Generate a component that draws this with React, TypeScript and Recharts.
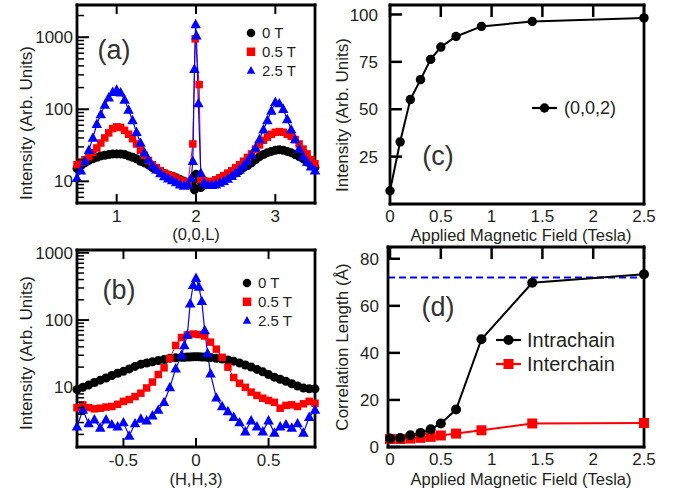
import React from 'react';
import { LineChart, Line, XAxis, YAxis, ReferenceLine, Legend } from 'recharts';

const FONT = '"Liberation Sans", Arial, Helvetica, sans-serif';
const TXT = '#231f20';
const BLACK = '#000000';
const RED = '#ff0000';
const BLUE = '#0000ff';

// ---------- Panel (a): (0,0,L) scans ----------
const aL = [0.5,0.55,0.6,0.65,0.7,0.75,0.8,0.85,0.9,0.95,1.0,1.05,1.1,1.15,1.2,1.25,1.3,1.35,1.4,1.45,1.5,1.55,1.6,1.65,1.7,1.75,1.8,1.85,1.9,
  1.94,1.96,1.98,1.99,1.995,2.0,2.005,2.03,2.04,2.06,
  2.1,2.15,2.2,2.25,2.3,2.35,2.4,2.45,2.5,2.55,2.6,2.65,2.7,2.75,2.8,2.85,2.9,2.95,3.0,3.05,3.1,3.15,3.2,3.25,3.3,3.35,3.4,3.45,3.5];
const a0T = [15,16.5,18,19.5,20.5,21.5,22.5,23,23.5,24,24,24,23.5,22.5,21.5,20.5,19,18,17,15.5,14.5,13.5,12.8,12.2,11.8,11.2,10.6,10,9.2,
  9.5,8.5,7.6,null,null,12.5,null,null,10.5,8.2,
  9.5,9.3,9.5,10,10.5,11,11.5,12.2,13,14,15.5,16.5,18,20,22,23.5,25,26,27,27.5,27,26,25,23.5,22,20.5,18.5,17,15.5];
const a05T = [17,18.5,20,22,25,29,34,40,47,54,57,56,51,45,39,33,27,23,19.5,17,15.5,14,13,12.3,11.8,11,10.4,10,9.5,
  null,33,null,950,null,null,null,null,220,10.5,
  10.2,9.8,10,10.5,11.2,12,13,14,15.5,17,19,21.5,24,28,32,37,41,45,48,49,48,45,42,38,33,28,24,20,17.5];
const a25T = [11,14,19,27,40,62,85,115,145,172,185,170,135,98,70,48,34,25,20,16.5,14.5,12.8,11.7,10.9,10.3,9.6,9,8.6,9,
  11,19,360,null,1500,null,1050,120,null,13,
  9.5,8.8,8.8,9,9.5,10,10.8,11.8,13,14.5,16.5,19,23,29,38,52,70,95,125,120,100,72,52,38,28,22,18.5,16,14];
const aXTicks = [1, 2, 3];
const aYMajor = [10, 100, 1000];
const aYMinor = [6,7,8,9,20,30,40,50,60,70,80,90,200,300,400,500,600,700,800,900,2000];

// ---------- Panel (b): (H,H,3) scans ----------
const bH = [-0.82,-0.78,-0.74,-0.70,-0.66,-0.62,-0.58,-0.54,-0.50,-0.46,-0.42,-0.38,-0.34,-0.30,-0.26,-0.22,-0.18,-0.14,-0.10,
  -0.08,-0.06,-0.04,-0.02,0,0.02,0.04,0.06,0.08,0.10,
  0.14,0.18,0.22,0.26,0.30,0.34,0.38,0.42,0.46,0.50,0.54,0.58,0.62,0.66,0.70,0.74,0.78,0.82];
const b0T = [9.3,10,10.8,11.8,12.8,13.8,15,16.2,17.3,18.8,20.5,22,23,24,25,26,27,27.5,28,
  28,28.2,28.3,28.5,28.6,28.5,28.3,28.2,28,27.8,
  27,26.3,25.5,24.5,23,21.5,20,18.5,17,15.5,14.2,13.2,12.3,11.3,10.5,9.8,9.5,9.5];
const b05T = [5.0,5.5,5.0,4.8,4.9,5.1,5.2,5.6,6.2,6.6,7.3,8.2,9.8,12,15.5,19.5,27,42,55,
  null,60,null,62,null,61,null,58,null,47,
  37,28,20,14,11.5,10,8.5,7.6,6.9,6.4,6,4.9,5.4,5.5,5.2,5.7,6.2,5.8];
const b25T = [2.6,4.6,2.9,3.3,2.5,3.3,2.8,2.6,3.0,1.9,2.9,3.4,3.2,3.8,4.6,6,10,19,30,
  42,60,175,330,420,310,190,70,32,16,
  7,5.2,4.4,3.6,3.0,2.2,3.2,2.6,2.2,3.2,2.1,2.6,2.8,2.5,2.9,2.1,3.6,4.6];
const bXTicks = [-0.5, 0, 0.5];
const bYMajor = [10, 100, 1000];
const bYMinor = [2,3,4,5,6,7,8,9,20,30,40,50,60,70,80,90,200,300,400,500,600,700,800,900];

// ---------- Panel (c): (0,0,2) intensity vs field ----------
const cField = [0, 0.1, 0.2, 0.3, 0.4, 0.5, 0.65, 0.9, 1.4, 2.5];
const cInt = [7, 32.8, 55.1, 65.6, 76.3, 82.8, 88.4, 93.7, 96.3, 98.2];
const cXTicks = [0, 0.5, 1, 1.5, 2, 2.5];
const cYTicks = [25, 50, 75, 100];

// ---------- Panel (d): correlation lengths ----------
const dField = [0, 0.1, 0.2, 0.3, 0.4, 0.5, 0.65, 0.9, 1.4, 2.5];
const dIntra = [3.6, 3.8, 5.0, 6.0, 7.5, 10.0, 15.9, 45.8, 69.8, 73.4];
const dInter = [3.4, 3.4, 3.6, 3.9, 4.3, 4.9, 5.7, 7.1, 10.0, 10.2];
const dLimit = 72;
const dXTicks = [0, 0.5, 1, 1.5, 2, 2.5];
const dYTicks = [0, 20, 40, 60, 80];

const legendA = [
  { name: '0 T', color: BLACK, shape: 'circle' },
  { name: '0.5 T', color: RED, shape: 'square' },
  { name: '2.5 T', color: BLUE, shape: 'triangle' },
];
const legendC = [{ name: '(0,0,2)', color: BLACK, shape: 'circle' }];
const legendD = [
  { name: 'Intrachain', color: BLACK, shape: 'circle' },
  { name: 'Interchain', color: RED, shape: 'square' },
];

const W = 676;
const H = 491;
const FRAME: any = { stroke: '#000', strokeWidth: 2.8, strokeLinecap: 'square' };
const ABS: React.CSSProperties = { position: 'absolute', left: 0, top: 0 };

// plot box [left, top, right, bottom] -> margins (axes are 1px thick boxes)
const boxMargin = (l: number, t: number, r: number, b: number) => ({ left: l - 1, top: t - 1, right: W - r - 1, bottom: H - b - 1 });

type Side = 'left' | 'right' | 'top' | 'bottom';
type TickCfg = { side: Side; major: number[]; majorLen: number; minorLen: number; label?: boolean; gap?: number; width?: number; fontSize?: number };

const makeTick = (c: TickCfg) => (p: any) => {
  const { x, y, payload, index } = p;
  const v = Number(payload.value);
  const isMajor = c.major.some((m) => Math.abs(m - v) < 1e-9);
  const len = isMajor ? c.majorLen : c.minorLen;
  const sw = c.width ?? 2;
  let x2 = x;
  let y2 = y;
  if (c.side === 'left') x2 = x + len;
  else if (c.side === 'right') x2 = x - len;
  else if (c.side === 'top') y2 = y + len;
  else y2 = y - len;
  const fs = c.fontSize ?? 17;
  return (
    <g key={`tk-${c.side}-${index}`}>
      {len > 0 && <line x1={x} y1={y} x2={x2} y2={y2} stroke="#000" strokeWidth={isMajor ? sw : sw * 0.75} />}
      {c.label && isMajor && c.side === 'left' && (
        <text x={x - (c.gap ?? 6)} y={y} dy="0.36em" textAnchor="end" fontSize={fs} fontFamily={FONT} fill={TXT}>{String(v)}</text>
      )}
      {c.label && isMajor && c.side === 'bottom' && (
        <text x={x} y={y + (c.gap ?? 19)} textAnchor="middle" fontSize={fs} fontFamily={FONT} fill={TXT}>{String(v)}</text>
      )}
    </g>
  );
};

const Marker = ({ shape, cx, cy, s, color }: { shape: string; cx: number; cy: number; s: number; color: string }) => {
  if (shape === 'circle') return <circle cx={cx} cy={cy} r={s / 2} fill={color} />;
  if (shape === 'square') return <rect x={cx - s / 2} y={cy - s / 2} width={s} height={s} fill={color} />;
  const h = s * 0.9;
  return <polygon points={`${cx},${cy - h * 0.6} ${cx + s / 2},${cy + h * 0.4} ${cx - s / 2},${cy + h * 0.4}`} fill={color} />;
};

const dotFn = (shape: string, s: number, color: string) => (p: any) => {
  const key = `d-${shape}-${p.index}`;
  if (p.cx == null || p.cy == null || p.value == null || Number.isNaN(p.cy)) return <g key={key} />;
  return <g key={key}><Marker shape={shape} cx={p.cx} cy={p.cy} s={s} color={color} /></g>;
};

const legendContent = (items: any[], opts: { rowH: number; textX: number; fs: number; s: number; line?: number; w: number }) => () => (
  <svg width={opts.w} height={items.length * opts.rowH + 4} style={{ display: 'block', overflow: 'visible' }}>
    {items.map((it, i) => {
      const cy = 9 + i * opts.rowH;
      const cx = opts.line ? opts.line / 2 + 1 : 8;
      return (
        <g key={it.name}>
          {opts.line ? <line x1={1} x2={opts.line + 1} y1={cy} y2={cy} stroke={it.color} strokeWidth={2.2} /> : null}
          <Marker shape={it.shape} cx={cx} cy={cy} s={opts.s} color={it.color} />
          <text x={opts.textX} y={cy} dy="0.36em" fontSize={opts.fs} fontFamily={FONT} fill={TXT}>{it.name}</text>
        </g>
      );
    })}
  </svg>
);

const commonAxis = { interval: 0 as const, tickSize: 0, tickMargin: 0, tickLine: false, axisLine: FRAME, allowDecimals: true };

function LogPanel(props: {
  xs: number[]; s0: (number | null)[]; s1: (number | null)[]; s2: (number | null)[];
  xDomain: [number, number]; yDomain: [number, number]; xTicks: number[]; yMajor: number[]; yMinor: number[];
  margin: any; legendPos: { left: number; top: number };
}) {
  const data = props.xs.map((x, i) => ({ x, s0: props.s0[i], s1: props.s1[i], s2: props.s2[i] }));
  const yt = [...props.yMinor, ...props.yMajor].sort((p, q) => p - q);
  return (
    <div style={ABS}>
      <LineChart width={W} height={H} data={data} margin={props.margin}>
        <XAxis xAxisId="b" dataKey="x" type="number" domain={props.xDomain} ticks={props.xTicks} height={1} {...commonAxis}
          tick={makeTick({ side: 'bottom', major: props.xTicks, majorLen: 9, minorLen: 0, label: true, gap: 19 })} />
        <XAxis xAxisId="t" orientation="top" dataKey="x" type="number" domain={props.xDomain} ticks={props.xTicks} height={1} {...commonAxis}
          tick={makeTick({ side: 'top', major: props.xTicks, majorLen: 9, minorLen: 0 })} />
        <YAxis yAxisId="l" type="number" scale="log" domain={props.yDomain} ticks={yt} width={1} {...commonAxis}
          tick={makeTick({ side: 'left', major: props.yMajor, majorLen: 12, minorLen: 7, label: true, gap: 4 })} />
        <YAxis yAxisId="r" orientation="right" type="number" scale="log" domain={props.yDomain} ticks={yt} width={1} {...commonAxis}
          tick={makeTick({ side: 'right', major: props.yMajor, majorLen: 12, minorLen: 7 })} />
        <Line xAxisId="b" yAxisId="l" type="linear" dataKey="s0" name="0 T" stroke={BLACK} strokeWidth={1} connectNulls isAnimationActive={false} dot={dotFn('circle', 9, BLACK)} />
        <Line xAxisId="b" yAxisId="l" type="linear" dataKey="s1" name="0.5 T" stroke={RED} strokeWidth={1} connectNulls isAnimationActive={false} dot={dotFn('square', 7.5, RED)} />
        <Line xAxisId="b" yAxisId="l" type="linear" dataKey="s2" name="2.5 T" stroke={BLUE} strokeWidth={1.2} connectNulls isAnimationActive={false} dot={dotFn('triangle', 10.5, BLUE)} />
        <Legend layout="vertical" align="center" verticalAlign="middle"
          wrapperStyle={{ left: props.legendPos.left, top: props.legendPos.top, width: 90 }}
          content={legendContent(legendA, { rowH: 18.8, textX: 19, fs: 15, s: 8.5, w: 90 })} />
      </LineChart>
    </div>
  );
}

function PanelC() {
  const data = cField.map((x, i) => ({ x, v: cInt[i] }));
  return (
    <div style={ABS}>
      <LineChart width={W} height={H} data={data} margin={boxMargin(390, 5, 644, 204)}>
        <XAxis xAxisId="b" dataKey="x" type="number" domain={[0, 2.5]} ticks={cXTicks} height={1} {...commonAxis}
          tick={makeTick({ side: 'bottom', major: cXTicks, majorLen: 0, minorLen: 0, label: true, gap: 18 })} />
        <XAxis xAxisId="t" orientation="top" dataKey="x" type="number" domain={[0, 2.5]} ticks={cXTicks} height={1} {...commonAxis}
          tick={makeTick({ side: 'top', major: cXTicks, majorLen: 12, minorLen: 0, width: 2.5 })} />
        <YAxis yAxisId="l" type="number" domain={[0, 105]} ticks={cYTicks} width={1} {...commonAxis}
          tick={makeTick({ side: 'left', major: cYTicks, majorLen: 12, minorLen: 0, label: true, gap: 12, width: 2.5 })} />
        <YAxis yAxisId="r" orientation="right" type="number" domain={[0, 105]} ticks={cYTicks} width={1} {...commonAxis}
          tick={makeTick({ side: 'right', major: cYTicks, majorLen: 12, minorLen: 0, width: 2.5 })} />
        <Line xAxisId="b" yAxisId="l" type="linear" dataKey="v" name="(0,0,2)" stroke={BLACK} strokeWidth={2} isAnimationActive={false} dot={dotFn('circle', 9.4, BLACK)} />
        <Legend layout="vertical" align="center" verticalAlign="middle"
          wrapperStyle={{ left: 531, top: 99, width: 110 }}
          content={legendContent(legendC, { rowH: 24, textX: 33, fs: 18, s: 9.4, line: 25, w: 110 })} />
      </LineChart>
    </div>
  );
}

function PanelD() {
  const data = dField.map((x, i) => ({ x, a: dIntra[i], b: dInter[i] }));
  return (
    <div style={ABS}>
      <LineChart width={W} height={H} data={data} margin={boxMargin(388, 247, 644, 447)}>
        <XAxis xAxisId="b" dataKey="x" type="number" domain={[-0.02, 2.5]} ticks={dXTicks} height={1} {...commonAxis}
          tick={makeTick({ side: 'bottom', major: dXTicks, majorLen: 0, minorLen: 0, label: true, gap: 18 })} />
        <XAxis xAxisId="t" orientation="top" dataKey="x" type="number" domain={[-0.02, 2.5]} ticks={dXTicks} height={1} {...commonAxis}
          tick={makeTick({ side: 'top', major: dXTicks, majorLen: 12, minorLen: 0, width: 2.5 })} />
        <YAxis yAxisId="l" type="number" domain={[0, 85]} ticks={dYTicks} width={1} {...commonAxis}
          tick={makeTick({ side: 'left', major: dYTicks, majorLen: 12, minorLen: 0, label: true, gap: 9, width: 2.5 })} />
        <YAxis yAxisId="r" orientation="right" type="number" domain={[0, 85]} ticks={dYTicks} width={1} {...commonAxis}
          tick={makeTick({ side: 'right', major: dYTicks, majorLen: 12, minorLen: 0, width: 2.5 })} />
        <ReferenceLine xAxisId="b" yAxisId="l" y={dLimit} stroke={BLUE} strokeWidth={2} strokeDasharray="7 4" />
        <Line xAxisId="b" yAxisId="l" type="linear" dataKey="b" name="Interchain" stroke={RED} strokeWidth={2} isAnimationActive={false} dot={dotFn('square', 10, RED)} />
        <Line xAxisId="b" yAxisId="l" type="linear" dataKey="a" name="Intrachain" stroke={BLACK} strokeWidth={2} isAnimationActive={false} dot={dotFn('circle', 10, BLACK)} />
        <Legend layout="vertical" align="center" verticalAlign="middle"
          wrapperStyle={{ left: 495, top: 331, width: 160 }}
          content={legendContent(legendD, { rowH: 24, textX: 32, fs: 20, s: 10, line: 25, w: 160 })} />
      </LineChart>
    </div>
  );
}

const titleStyle = { fontFamily: FONT, fontSize: 17, fill: TXT };
const xTitleStyle = { fontFamily: FONT, fontSize: 16.5, fill: TXT };
const panelTag = { fontFamily: FONT, fontSize: 27, fill: '#333' };

export default function App() {
  return (
    <div style={{ position: 'absolute', left: 0, top: 0, width: W, height: H, background: '#fff', overflow: 'hidden' }}>
      <LogPanel xs={aL} s0={a0T} s1={a05T} s2={a25T} xDomain={[0.5, 3.5]} yDomain={[5, 2800]} xTicks={aXTicks}
        yMajor={aYMajor} yMinor={aYMinor} margin={boxMargin(77, 5, 315, 203)} legendPos={{ left: 243, top: 24 }} />
      <LogPanel xs={bH} s0={b0T} s1={b05T} s2={b25T} xDomain={[-0.82, 0.82]} yDomain={[1.3, 1100]} xTicks={bXTicks}
        yMajor={bYMajor} yMinor={bYMinor} margin={boxMargin(77, 250, 315, 447)} legendPos={{ left: 239, top: 274 }} />
      <PanelC />
      <PanelD />
      <svg width={W} height={H} style={{ ...ABS, pointerEvents: 'none' }}>
        <text transform="translate(26,123) rotate(-90)" textAnchor="middle" dy="0.35em" {...titleStyle}>Intensity (Arb. Units)</text>
        <text transform="translate(26,353) rotate(-90)" textAnchor="middle" dy="0.35em" {...titleStyle}>Intensity (Arb. Units)</text>
        <text transform="translate(342,115) rotate(-90)" textAnchor="middle" dy="0.35em" {...titleStyle}>Intensity (Arb. Units)</text>
        <text transform="translate(342,347) rotate(-90)" textAnchor="middle" dy="0.35em" {...titleStyle}>Correlation Length (Å)</text>
        <text x={196} y={234} dy="0.35em" textAnchor="middle" {...xTitleStyle}>(0,0,L)</text>
        <text x={196} y={479} dy="0.35em" textAnchor="middle" {...xTitleStyle}>(H,H,3)</text>
        <text x={521} y={235} dy="0.35em" textAnchor="middle" {...xTitleStyle}>Applied Magnetic Field (Tesla)</text>
        <text x={521} y={479} dy="0.35em" textAnchor="middle" {...xTitleStyle}>Applied Magnetic Field (Tesla)</text>
        <text x={114} y={50} dy="0.35em" textAnchor="middle" {...panelTag}>(a)</text>
        <text x={119} y={290} dy="0.35em" textAnchor="middle" {...panelTag}>(b)</text>
        <text x={438} y={156} dy="0.35em" textAnchor="middle" {...panelTag}>(c)</text>
        <text x={438} y={307} dy="0.35em" textAnchor="middle" {...panelTag}>(d)</text>
      </svg>
    </div>
  );
}
